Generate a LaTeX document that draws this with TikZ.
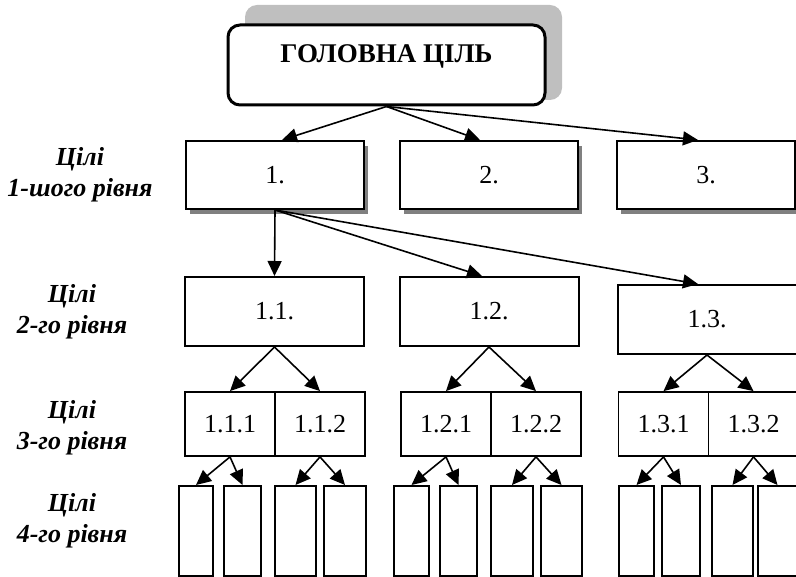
\documentclass[tikz,border=0pt]{standalone}
\usepackage{fontspec}
\setmainfont{Liberation Serif}
\usetikzlibrary{shadows}
\usetikzlibrary{positioning}
\usetikzlibrary{arrows.meta,calc}
\tikzstyle{headbox}=[draw,line width=3pt,rounded corners=12pt,fill=white,minimum width=317pt,inner sep=0pt,text height=38pt,text depth=42pt,font=\fontsize{27}{30}\selectfont\bfseries]
\tikzstyle{headshadow}=[fill=black!25,rounded corners=12pt,minimum width=317pt,minimum height=95pt,inner sep=0pt]
\tikzstyle{goalbox}=[draw,line width=2pt,fill=white,minimum width=178pt,minimum height=68pt,inner sep=0pt,drop shadow={shadow xshift=4pt,shadow yshift=-5pt,fill=black!50,opacity=1},font=\fontsize{26}{30}\selectfont]
\tikzstyle{subgoalbox}=[draw,line width=2pt,fill=white,minimum width=179pt,minimum height=69pt,inner sep=0pt,font=\fontsize{26}{30}\selectfont]
\tikzstyle{splitbox}=[draw,line width=1.8pt,minimum width=90pt,minimum height=64pt,inner sep=0pt,font=\fontsize{26}{30}\selectfont]
\tikzstyle{leafbox}=[draw,line width=2pt,minimum height=90pt,inner sep=0pt]
\tikzstyle{edge} = [draw,line width=1.6pt,-{Triangle[length=15pt,width=14pt]}]
\tikzstyle{levellabel} = [align=center,font=\fontsize{26}{31}\selectfont\bfseries\itshape]

\begin{document}
\begin{tikzpicture}[x=1pt,y=-1pt]
\useasboundingbox (0,0) rectangle (796,577);

    % Main goal with its shadow
    \node[headshadow] (headsh) at (403.5,52.5) {};
    \node[headbox] (head) at (386.5,65) {ГОЛОВНА ЦІЛЬ};

    % Goals of the first level
    \foreach \pos/\name/\label in {{(275,175)/g1/1.}, {(489,175)/g2/2.}, {(706,175)/g3/3.}}
        \node[goalbox] (\name) at \pos {\label};

    % Goals of the second level
    \foreach \pos/\name/\label in {{(274.5,311.5)/g11/1.1.}, {(489,311.5)/g12/1.2.}, {(707,319.5)/g13/1.3.}}
        \node[subgoalbox] (\name) at \pos {\label};

    % Goals of the third level
    \foreach \pos/\name/\label in {{(230,424)/g111/1.1.1}, {(320,424)/g112/1.1.2}, {(446,424)/g121/1.2.1}, {(536,424)/g122/1.2.2}, {(663.5,424)/g131/1.3.1}, {(753.5,424)/g132/1.3.2}}
        \node[splitbox] (\name) at \pos {\label};

    % Goals of the fourth level
    \foreach \pos/\name/\boxw in {{(196,531)/g111a/34}, {(242.5,531)/g111b/37}, {(295.5,531)/g112a/41}, {(345,531)/g112b/42}, {(411.5,531)/g121a/35}, {(458.5,531)/g121b/37}, {(512,531)/g122a/42}, {(561.5,531)/g122b/41}, {(636.5,531)/g131a/35}, {(681,531)/g131b/38}, {(732.5,531)/g132a/41}, {(777.5,531)/g132b/39}}
        \node[leafbox,minimum width=\boxw pt] (\name) at \pos {};

    % Connect goals with arrows
  \foreach \source/ \dest /\dx in {head/g1/7, head/g2/-9, head/g3/-8, g1/g11/0, g1/g12/-7, g1/g13/-9, g11/g111/0, g11/g112/0, g12/g121/0, g12/g122/0, g13/g131/0, g13/g132/0}
          \path[edge] (\source.south) -- ($(\dest.north)+(\dx,0)$);
  \foreach \source/ \dest in {g111/g111a, g111/g111b, g112/g112a, g112/g112b, g121/g121a, g121/g121b, g122/g122a, g122/g122b, g131/g131a, g131/g131b, g132/g132a, g132/g132b}
          \path[edge] (\source.south) -- (\dest.north);

    % Level names
\node[levellabel] (lev1) at (80,175) {Цілі\\1-шого рівня};
\node[levellabel] (lev2) at (72,312) {Цілі\\2-го рівня};
\node[levellabel] (lev3) at (72,428) {Цілі\\3-го рівня};
\node[levellabel] (lev4) at (72,521) {Цілі\\4-го рівня};

   \end{tikzpicture}
\end{document}
